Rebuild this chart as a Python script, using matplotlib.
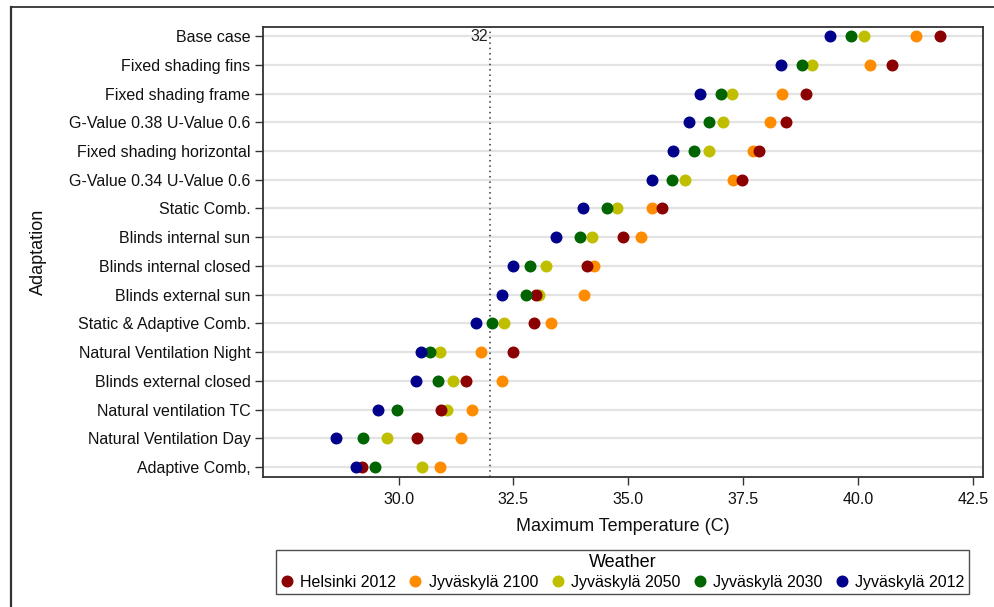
import matplotlib
matplotlib.use("Agg")
import matplotlib.pyplot as plt
from matplotlib.lines import Line2D

plt.rcParams['font.family'] = ['Liberation Sans', 'DejaVu Sans']

adaptations = [
    "Base case", "Fixed shading fins", "Fixed shading frame",
    "G-Value 0.38 U-Value 0.6", "Fixed shading horizontal",
    "G-Value 0.34 U-Value 0.6", "Static Comb.", "Blinds internal sun",
    "Blinds internal closed", "Blinds external sun",
    "Static & Adaptive Comb.", "Natural Ventilation Night",
    "Blinds external closed", "Natural ventilation TC",
    "Natural Ventilation Day", "Adaptive Comb,",
]

helsinki_2012 = [41.78, 40.73, 38.87, 38.44, 37.85, 37.47, 35.73, 34.88,
                 34.10, 33.00, 32.95, 32.49, 31.47, 30.92, 30.40, 29.21]
jyv_2100 = [41.27, 40.25, 38.35, 38.09, 37.72, 37.28, 35.52, 35.28,
            34.25, 34.04, 33.32, 31.79, 32.25, 31.59, 31.37, 30.90]
jyv_2050 = [40.13, 38.99, 37.26, 37.07, 36.75, 36.23, 34.75, 34.21,
            33.22, 33.05, 32.30, 30.91, 31.18, 31.05, 29.74, 30.52]
jyv_2030 = [39.85, 38.77, 37.01, 36.75, 36.43, 35.95, 34.53, 33.95,
            32.86, 32.77, 32.04, 30.69, 30.85, 29.96, 29.23, 29.48]
jyv_2012 = [39.38, 38.32, 36.57, 36.32, 35.97, 35.52, 34.01, 33.43,
            32.49, 32.25, 31.69, 30.48, 30.38, 29.55, 28.64, 29.08]

series_names = ["Helsinki 2012", "Jyväskylä 2100", "Jyväskylä 2050",
                "Jyväskylä 2030", "Jyväskylä 2012"]
series_values = [helsinki_2012, jyv_2100, jyv_2050, jyv_2030, jyv_2012]
colors = ["#8b0000", "#ff8c00", "#bfbf00", "#006400", "#00008b"]
draw_order = [1, 2, 0, 3, 4]

x_ticks = [30.0, 32.5, 35.0, 37.5, 40.0, 42.5]
ref_value = 32

W, H = 995, 607
fig = plt.figure(figsize=(W / 100, H / 100), dpi=100)

# outer frame (top & left edge lines)
fig.add_artist(Line2D([11 / W, 1.0], [1 - 7 / H, 1 - 7 / H], color="#333333", lw=1.3))
fig.add_artist(Line2D([11 / W, 11 / W], [0.0, 1 - 7 / H], color="#333333", lw=1.6))

ax = fig.add_axes([263 / W, 1 - 477 / H, (983 - 263) / W, (477 - 27) / H])
n = len(adaptations)
ypos = [n - 1 - i for i in range(n)]

for yy in ypos:
    ax.axhline(yy, color="#e3e3e3", lw=1.6, zorder=0)

ax.axvline(ref_value, color="#333333", lw=1.1, ls=(0, (1, 2.5)), zorder=1)
ax.text(ref_value - 0.05, n - 1, str(ref_value), ha="right", va="center",
        fontsize=11.5, color="#222222")

for k in draw_order:
    ax.plot(series_values[k], ypos, ls="none", marker="o", ms=7.6,
            color=colors[k], mec=colors[k], zorder=3)

ax.set_xlim(27.05, 42.72)
ax.set_ylim(-0.35, n - 1 + 0.32)
ax.set_xticks(x_ticks)
ax.set_xticklabels([f"{t:.1f}" for t in x_ticks])
ax.set_yticks(ypos)
ax.set_yticklabels(adaptations)
ax.tick_params(axis="both", direction="out", length=6, width=1.0,
               color="#333333", labelsize=11.5, labelcolor="#111111")
ax.tick_params(axis="y", pad=3)
ax.tick_params(axis="x", pad=5)
for sp in ax.spines.values():
    sp.set_color("#333333")
    sp.set_linewidth(1.3)

ax.set_xlabel("Maximum Temperature (C)", fontsize=13, labelpad=8, color="#111111")
fig.text(38 / W, 1 - 252 / H, "Adaptation", rotation=90, ha="center",
         va="center", fontsize=13, color="#111111")

handles = [Line2D([], [], ls="none", marker="o", ms=7.6, color=c) for c in colors]
leg = fig.legend(handles, series_names, title="Weather", ncol=5,
                 loc="center", bbox_to_anchor=(622.5 / W, 1 - 572 / H),
                 fontsize=11.5, title_fontsize=13, frameon=True,
                 fancybox=False, edgecolor="#222222", handlelength=0.8,
                 handletextpad=0.45, columnspacing=0.8, borderpad=0.25,
                 labelspacing=0.2, borderaxespad=0)
leg.get_frame().set_linewidth(1.0)

fig.savefig("out.png", dpi=100)
